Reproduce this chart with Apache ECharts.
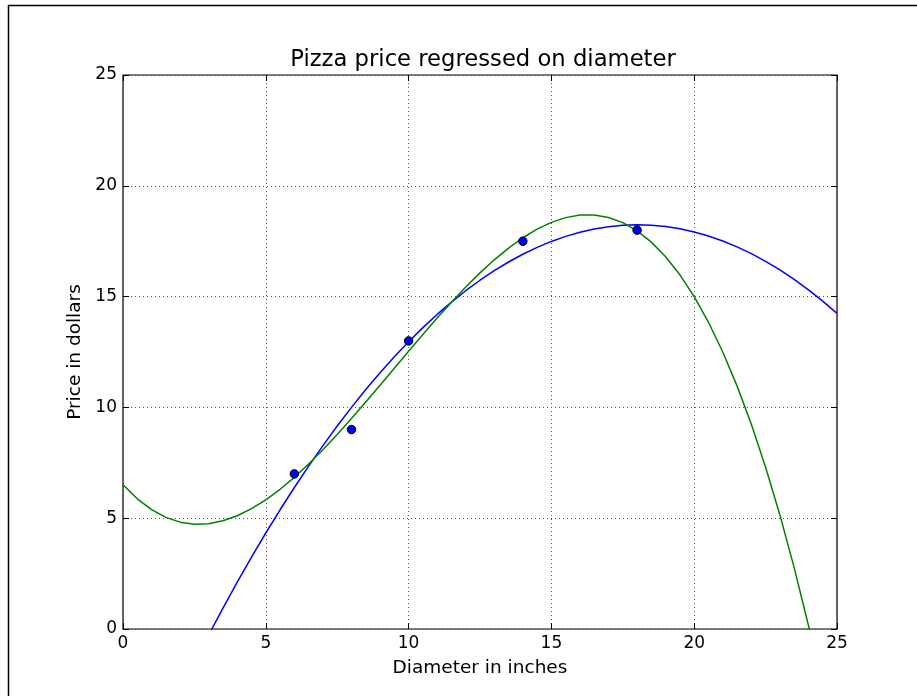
<!DOCTYPE html>
<html>
<head>
<meta charset="utf-8">
<script src="https://cdn.jsdelivr.net/npm/echarts@6/dist/echarts.min.js"></script>
<style>
html,body{margin:0;padding:0;background:#fff;}
#chart{width:917px;height:696px;}
</style>
</head>
<body>
<div id="chart"></div>
<script>
// Data
var titleText = 'Pizza price regressed on diameter';
var xName = 'Diameter in inches';
var yName = 'Price in dollars';
var pointX = [6, 8, 10, 14, 18];
var pointY = [7, 9, 13, 17.5, 18];
var curveX = [0,0.5,1,1.5,2,2.5,3,3.5,4,4.5,5,5.5,6,6.5,7,7.5,8,8.5,9,9.5,10,10.5,11,11.5,12,12.5,13,13.5,14,14.5,15,15.5,16,16.5,17,17.5,18,18.5,19,19.5,20,20.5,21,21.5,22,22.5,23,23.5,24,24.5,25];
var quadY = [-8.398,-6.941,-5.524,-4.149,-2.814,-1.520,-0.267,0.945,2.115,3.244,4.332,5.380,6.386,7.352,8.276,9.160,10.002,10.804,11.564,12.284,12.962,13.599,14.195,14.751,15.265,15.738,16.170,16.562,16.912,17.222,17.490,17.717,17.903,18.048,18.152,18.215,18.237,18.219,18.159,18.058,17.916,17.733,17.509,17.244,16.938,16.591,16.203,15.775,15.305,14.794,14.242];
var cubicY = [6.510,5.874,5.386,5.038,4.822,4.729,4.752,4.882,5.110,5.429,5.830,6.305,6.845,7.443,8.089,8.776,9.496,10.240,11.000,11.768,12.535,13.293,14.034,14.749,15.431,16.071,16.660,17.191,17.655,18.044,18.350,18.564,18.678,18.684,18.573,18.338,17.969,17.459,16.800,15.983,14.999,13.842,12.502,10.971,9.240,7.302,5.148,2.770,0.160,-2.691,-5.790];

function pairs(xs, ys){ return xs.map(function(x,i){ return [x, ys[i]]; }); }

var font = 'DejaVu Sans';
var chart = echarts.init(document.getElementById('chart'), null, {renderer:'canvas'});
var axisCommon = {
  type: 'value', min: 0, max: 25, interval: 5,
  axisLine: {show: false, onZero: false},
  axisTick: {show: true, inside: true, length: 6, lineStyle: {color: '#000', width: 1}},
  splitLine: {show: true, lineStyle: {color: '#555', width: 1, type: [1, 3]}},
  axisLabel: {color: '#000', fontSize: 17, fontFamily: font},
  nameLocation: 'middle',
  nameTextStyle: {color: '#000', fontSize: 18.5, fontFamily: font}
};
var mirror = {
  type: 'value', min: 0, max: 25, interval: 5,
  axisLine: {show: false, onZero: false},
  axisTick: {show: true, inside: true, length: 6, lineStyle: {color: '#000', width: 1}},
  axisLabel: {show: false},
  splitLine: {show: false}
};
chart.setOption({
  animation: false,
  backgroundColor: '#fff',
  title: {
    text: titleText, left: 478, top: 44, textAlign: 'center',
    textStyle: {color: '#000', fontSize: 22.7, fontWeight: 'normal', fontFamily: font}
  },
  grid: {left: 123, right: 80, top: 75, bottom: 67, show: true, borderColor: '#000', borderWidth: 1.2, backgroundColor: 'transparent'},
  graphic: [{
    type: 'rect', z: 100, silent: true,
    shape: {x: 8.5, y: 5.5, width: 1000, height: 1000},
    style: {fill: 'none', stroke: '#000', lineWidth: 1.5}
  }],
  xAxis: [
    Object.assign({}, axisCommon, {
      position: 'bottom', name: xName, nameGap: 30,
      axisLabel: Object.assign({}, axisCommon.axisLabel, {margin: 6})
    }),
    Object.assign({}, mirror, {position: 'top'})
  ],
  yAxis: [
    Object.assign({}, axisCommon, {
      position: 'left', name: yName, nameGap: 37,
      axisLabel: Object.assign({}, axisCommon.axisLabel, {margin: 6})
    }),
    Object.assign({}, mirror, {position: 'right'})
  ],
  series: [
    {
      type: 'line', data: pairs(curveX, quadY), showSymbol: false, smooth: false, clip: true,
      lineStyle: {color: '#0000ff', width: 1.5}, z: 2
    },
    {
      type: 'line', data: pairs(curveX, cubicY), showSymbol: false, smooth: false, clip: true,
      lineStyle: {color: '#008000', width: 1.5}, z: 2
    },
    {
      type: 'scatter', data: pairs(pointX, pointY), symbolSize: 8.5, z: 5,
      itemStyle: {color: '#0000ff', borderColor: '#000', borderWidth: 1, opacity: 1}
    }
  ]
});
</script>
</body>
</html>
